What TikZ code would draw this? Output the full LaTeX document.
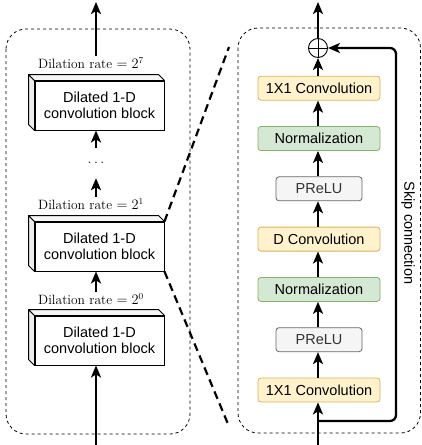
\documentclass[tikz,border=0pt]{standalone}
\usepackage{fontspec}
\newfontfamily\boxfont{Liberation Sans}
\usetikzlibrary{positioning,calc,arrows.meta}

\definecolor{convfill}{HTML}{FFF2CC}
\definecolor{convline}{HTML}{D6B656}
\definecolor{normfill}{HTML}{D5E8D4}
\definecolor{normline}{HTML}{82B366}
\definecolor{actfill}{HTML}{F5F5F5}
\definecolor{actline}{HTML}{666666}
\definecolor{acttext}{HTML}{333333}

\begin{document}
\begin{tikzpicture}[x=1pt, y=-1pt, node distance=25.5pt,
  cube/.style={draw, fill=white, line width=0.9pt, minimum width=129pt, minimum height=49pt, align=center, font=\boxfont\fontsize{14.5}{16.5}\selectfont},
  rate/.style={font=\fontsize{13.5}{16}\selectfont, inner sep=1pt},
  layer/.style={draw, rounded corners=3pt, line width=0.8pt, minimum width=122pt, minimum height=24pt, font=\boxfont\fontsize{14.5}{17}\selectfont},
  conv/.style={layer, fill=convfill, draw=convline},
  norm/.style={layer, fill=normfill, draw=normline},
  act/.style={layer, fill=actfill, draw=actline, text=acttext, minimum width=86pt},
  flow/.style={-{Stealth[length=12pt, width=10pt, inset=3pt]}, line width=2.3pt},
  panel/.style={draw, dash pattern=on 3pt off 3pt, rounded corners=20pt, line width=0.8pt},
  zoomline/.style={dash pattern=on 8pt off 5pt, line width=2.2pt}]

  \useasboundingbox (0,0) rectangle (422,445);

  % Panels
  \draw[panel] (6,29) rectangle (190,434);
  \draw[panel] (238,28) rectangle (420.5,433);

  % Left column: stacked dilated blocks
  \coordinate (outL) at (96,2);
  \coordinate (inL) at (96,445);
  \node[rate] (rate7) at (91,63) {Dilation rate $=2^7$};
  \node[cube] (blk1) at (99.5,105.5) {Dilated 1-D\\convolution block};
  \node[rate, minimum height=30pt, inner sep=0pt] (dots) at (96,163) {$\ldots$};
  \node[rate] (rate1) at (91,204) {Dilation rate $=2^1$};
  \node[cube] (blk2) at (99.5,246.5) {Dilated 1-D\\convolution block};
  \node[rate] (rate0) at (91,299) {Dilation rate $=2^0$};
  \node[cube] (blk3) at (99.5,340.5) {Dilated 1-D\\convolution block};

  % cube faces
  \foreach \b in {blk1,blk2,blk3} {
    \filldraw[fill=gray!14, line width=0.9pt, line join=round] (\b.north west) -- ++(-6,-6) -- ($(\b.south west)+(-6,-6)$) -- (\b.south west) -- cycle;
    \filldraw[fill=gray!7, line width=0.9pt, line join=round] (\b.north west) -- ++(-6,-6) -- ($(\b.north east)+(-6,-6)$) -- (\b.north east) -- cycle;
  }

  % Left arrows
  \draw[flow] (dots.north) -- (blk1.south -| dots);
  \draw[flow] (rate1.north -| dots) -- (dots.south);
  \draw[flow] (rate7.north -| outL) -- (outL);
  \draw[flow] (rate0.north -| inL) -- (blk2.south -| inL);
  \draw[flow] (inL) -- (blk3.south -| inL);

  % Right column: one block in detail
  \node[conv] (conv1) at (319,390) {1X1 Convolution};
  \node[act, above=of conv1] (prelu1) {PReLU};
  \node[norm, above=of prelu1] (norm1) {Normalization};
  \node[conv, above=of norm1] (dconv) {D Convolution};
  \node[act, above=of dconv] (prelu2) {PReLU};
  \node[norm, above=of prelu2] (norm2) {Normalization};
  \node[conv, above=of norm2] (conv2) {1X1 Convolution};
  \node[draw, circle, line width=0.9pt, minimum size=19pt, inner sep=0pt] (sum) at (318,48) {};
  \draw[line width=0.9pt] (sum.north) -- (sum.south) (sum.west) -- (sum.east);

  \coordinate (outR) at (318,2);
  \coordinate (inR) at (318,445);
  \coordinate (split) at (318,421);
  \coordinate (skipx) at (396,48);

  % Right arrows
  \draw[flow] (inR) -- (conv1.south -| inR);
  \draw[flow] (conv1.north -| inR) -- (prelu1.south -| inR);
  \draw[flow] (prelu1.north -| inR) -- (norm1.south -| inR);
  \draw[flow] (norm1.north -| inR) -- (dconv.south -| inR);
  \draw[flow] (dconv.north -| inR) -- (prelu2.south -| inR);
  \draw[flow] (prelu2.north -| inR) -- (norm2.south -| inR);
  \draw[flow] (norm2.north -| inR) -- (conv2.south -| inR);
  \draw[flow] (conv2.north -| inR) -- (sum.south);
  \draw[flow] (sum.north) -- (outR);

  % Skip connection
  \draw[flow, rounded corners=6pt] (split) -| (skipx) -- (sum.east);
  \node[rotate=-90, font=\boxfont\fontsize{14.5}{17}\selectfont] (skiplabel) at (408,233) {Skip connection};

  % Zoom lines
  \coordinate (zoomtop) at (229,47);
  \coordinate (zoombot) at (228,424);
  \draw[zoomline] (blk2.north east) -- (zoomtop);
  \draw[zoomline] (blk2.south east) -- (zoombot);

\end{tikzpicture}
\end{document}
